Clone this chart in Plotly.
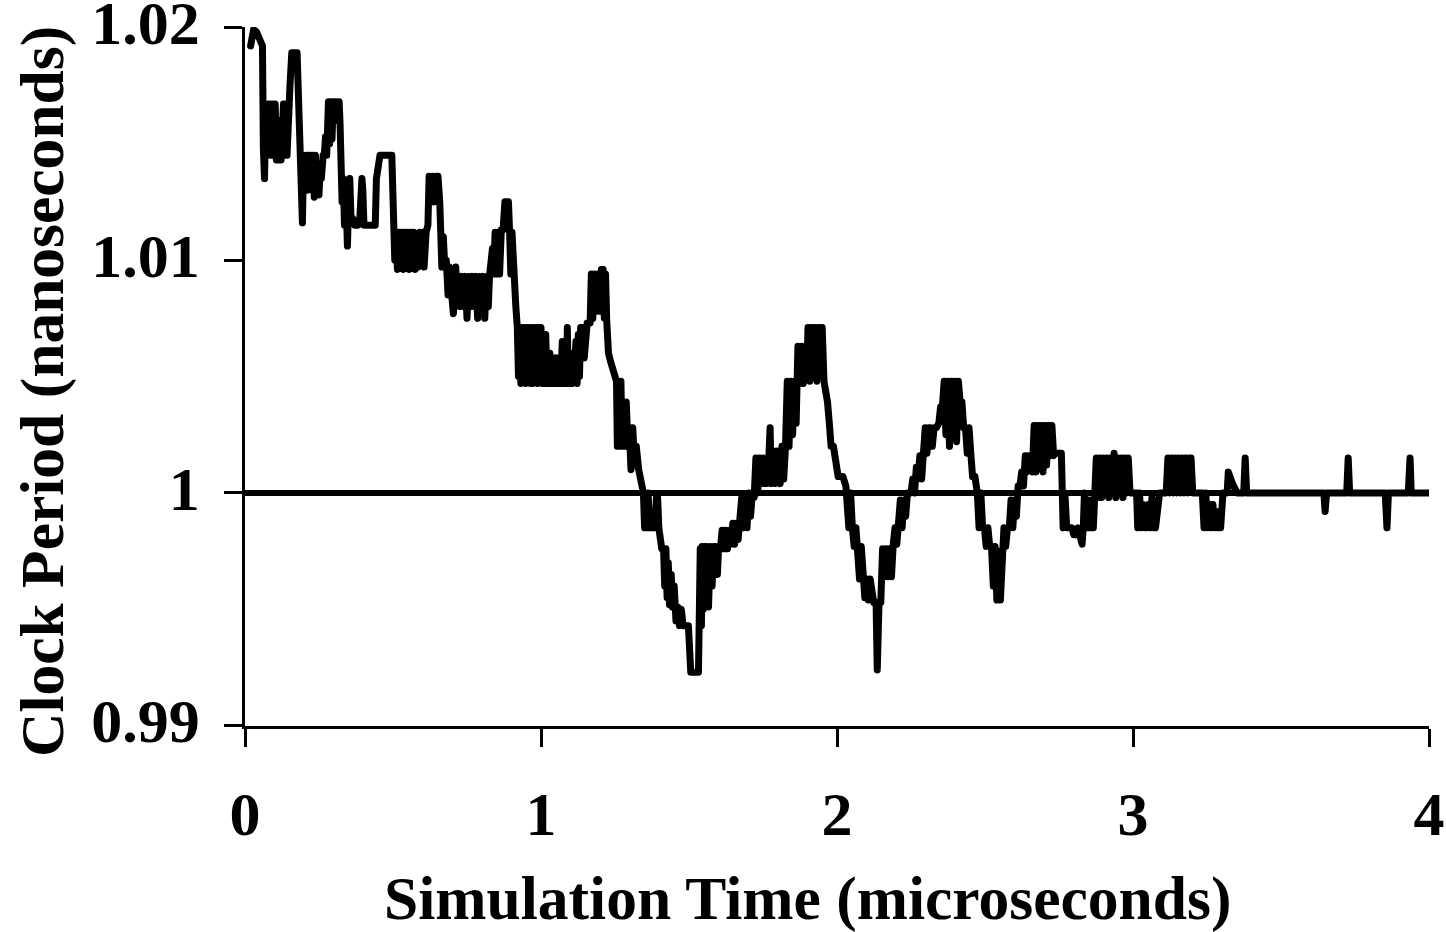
import plotly.graph_objects as go

# ---- data: simulation time (microseconds) and clock period (nanoseconds) ----
tA = [0.019, 0.029, 0.039, 0.059, 0.062, 0.066, 0.070, 0.074, 0.078, 0.082, 0.086, 0.090, 0.094, 0.098, 0.102,
      0.106, 0.110, 0.114, 0.118, 0.122, 0.126, 0.130, 0.134, 0.138, 0.142, 0.147, 0.152, 0.158, 0.176, 0.194]
pA = [1.0192, 1.0199, 1.0198, 1.0192, 1.0148, 1.0135, 1.0167, 1.0145, 1.0167, 1.0150, 1.0167, 1.0145, 1.0167, 1.0150, 1.0167,
      1.0143, 1.0160, 1.0143, 1.0150, 1.0143, 1.0155, 1.0167, 1.0150, 1.0167, 1.0145, 1.0167, 1.0175, 1.0189, 1.0189, 1.0116]

tB = [0.198, 0.202, 0.206, 0.210, 0.214, 0.218, 0.222, 0.226, 0.230, 0.234, 0.238, 0.242, 0.246, 0.250, 0.254,
      0.258, 0.264, 0.268, 0.272, 0.276, 0.282, 0.286, 0.290, 0.294, 0.298, 0.306, 0.312, 0.318, 0.321, 0.324]
pB = [1.0145, 1.0130, 1.0145, 1.0130, 1.0145, 1.0132, 1.0145, 1.0130, 1.0145, 1.0127, 1.0145, 1.0130, 1.0138, 1.0128, 1.0140,
      1.0135, 1.0145, 1.0145, 1.0153, 1.0145, 1.0168, 1.0150, 1.0168, 1.0152, 1.0168, 1.0168, 1.0160, 1.0168, 1.0159, 1.0135]

tC = [0.328, 0.332, 0.336, 0.341, 0.346, 0.350, 0.354, 0.358, 0.364, 0.370, 0.376, 0.382, 0.388, 0.395,
      0.398, 0.402, 0.410, 0.418, 0.426, 0.434, 0.440, 0.444, 0.450, 0.456, 0.496, 0.499, 0.502]
pC = [1.0125, 1.0135, 1.0115, 1.0130, 1.0106, 1.0125, 1.0135, 1.0118, 1.0118, 1.0115, 1.0115, 1.0115, 1.0118, 1.0135,
      1.0130, 1.0115, 1.0115, 1.0115, 1.0115, 1.0115, 1.0115, 1.0135, 1.0140, 1.0145, 1.0145, 1.0130, 1.0113]

tD = [0.506, 0.510, 0.515, 0.520, 0.525, 0.530, 0.535, 0.540, 0.545, 0.550, 0.555, 0.560,
      0.565, 0.570, 0.575, 0.580, 0.585, 0.590, 0.595, 0.600, 0.605, 0.612, 0.618]
pD = [1.0100, 1.0110, 1.0096, 1.0112, 1.0097, 1.0112, 1.0096, 1.0112, 1.0097, 1.0112, 1.0096, 1.0112,
      1.0097, 1.0112, 1.0096, 1.0110, 1.0097, 1.0112, 1.0100, 1.0112, 1.0097, 1.0112, 1.0115]

tE = [0.622, 0.628, 0.633, 0.640, 0.645, 0.652, 0.658, 0.661, 0.665, 0.670, 0.675, 0.680, 0.686,
      0.690, 0.695, 0.700, 0.704, 0.708, 0.712, 0.716, 0.720, 0.726, 0.732, 0.738, 0.744, 0.750,
      0.756, 0.762, 0.768, 0.774, 0.780, 0.786, 0.792, 0.798, 0.804, 0.810, 0.816, 0.822, 0.826]
pE = [1.0136, 1.0125, 1.0136, 1.0125, 1.0136, 1.0136, 1.0125, 1.0116, 1.0097, 1.0110, 1.0097, 1.0100, 1.0085,
      1.0097, 1.0085, 1.0082, 1.0077, 1.0085, 1.0097, 1.0085, 1.0093, 1.0080, 1.0093, 1.0080, 1.0093, 1.0075,
      1.0093, 1.0080, 1.0093, 1.0080, 1.0093, 1.0075, 1.0093, 1.0080, 1.0093, 1.0075, 1.0093, 1.0080, 1.0093]

tF = [0.836, 0.840, 0.845, 0.850, 0.855, 0.860, 0.866, 0.872, 0.878, 0.890, 0.894, 0.898, 0.902, 0.906,
      0.910, 0.915, 0.920]
pF = [1.0105, 1.0094, 1.0112, 1.0094, 1.0112, 1.0094, 1.0113, 1.0113, 1.0125, 1.0125, 1.0112, 1.0094, 1.0112, 1.0094,
      1.0080, 1.0080, 1.0071]

tG = [0.924, 0.928, 0.932, 0.936, 0.940, 0.944, 0.948, 0.952, 0.956, 0.960, 0.964, 0.968, 0.972, 0.976, 0.980,
      0.984, 0.988, 0.992, 0.996, 1.000, 1.004, 1.008, 1.012, 1.016, 1.020, 1.026, 1.030, 1.034, 1.040, 1.046,
      1.050, 1.054, 1.060, 1.066, 1.072, 1.078, 1.086, 1.089, 1.092, 1.098, 1.104, 1.108, 1.112, 1.118, 1.122,
      1.126, 1.130, 1.134, 1.140, 1.146, 1.150, 1.156, 1.162]
pG = [1.0050, 1.0071, 1.0047, 1.0071, 1.0050, 1.0071, 1.0047, 1.0071, 1.0050, 1.0071, 1.0047, 1.0071, 1.0047, 1.0071, 1.0050,
      1.0071, 1.0047, 1.0071, 1.0050, 1.0071, 1.0047, 1.0060, 1.0047, 1.0068, 1.0047, 1.0047, 1.0060, 1.0047, 1.0047, 1.0047,
      1.0058, 1.0047, 1.0047, 1.0047, 1.0065, 1.0047, 1.0047, 1.0071, 1.0047, 1.0047, 1.0047, 1.0060, 1.0050, 1.0065, 1.0047,
      1.0068, 1.0050, 1.0071, 1.0071, 1.0058, 1.0071, 1.0073, 1.0073]

tH = [1.166, 1.170, 1.175, 1.180, 1.186, 1.192, 1.198, 1.204, 1.210, 1.214, 1.218, 1.222, 1.228, 1.236, 1.244, 1.250]
pH = [1.0073, 1.0094, 1.0075, 1.0094, 1.0078, 1.0094, 1.0078, 1.0096, 1.0096, 1.0075, 1.0094, 1.0074, 1.0060, 1.0056, 1.0052, 1.0048]

tI = [1.255, 1.258, 1.262, 1.266, 1.270, 1.274, 1.278, 1.284, 1.288, 1.294, 1.298, 1.304, 1.310, 1.316, 1.322,
      1.330, 1.338, 1.346]
pI = [1.0048, 1.0020, 1.0048, 1.0020, 1.0048, 1.0020, 1.0039, 1.0020, 1.0039, 1.0020, 1.0028, 1.0010, 1.0028, 1.0012, 1.0020,
      1.0010, 1.0004, 1.0000]

tJ = [1.350, 1.354, 1.358, 1.362, 1.366, 1.372, 1.378, 1.384, 1.390, 1.394, 1.398, 1.402, 1.408, 1.414, 1.418,
      1.422, 1.426, 1.430, 1.434, 1.440, 1.444, 1.450, 1.456, 1.462, 1.468, 1.474, 1.480, 1.486, 1.492, 1.498,
      1.506, 1.532, 1.538, 1.542, 1.544, 1.548, 1.552, 1.556, 1.560, 1.566, 1.572, 1.578, 1.584, 1.590, 1.596, 1.600]
pJ = [0.9985, 1.0000, 0.9985, 1.0000, 0.9985, 0.9985, 0.9985, 0.9985, 0.9998, 0.9998, 0.9985, 0.9980, 0.9976, 0.9976, 0.9960,
      0.9976, 0.9955, 0.9970, 0.9952, 0.9965, 0.9951, 0.9960, 0.9945, 0.9951, 0.9943, 0.9950, 0.9943, 0.9943, 0.9943, 0.9943,
      0.9923, 0.9923, 0.9976, 0.9943, 0.9977, 0.9950, 0.9977, 0.9955, 0.9977, 0.9951, 0.9977, 0.9960, 0.9977, 0.9977, 0.9965, 0.9977]

tK = [1.606, 1.612, 1.618, 1.624, 1.630, 1.636, 1.642, 1.648, 1.654, 1.660, 1.666, 1.672, 1.678, 1.684, 1.690,
      1.696, 1.702, 1.708, 1.714, 1.720, 1.726, 1.732, 1.738, 1.744, 1.750, 1.756, 1.762, 1.768, 1.774, 1.778,
      1.784, 1.790, 1.796, 1.802]
pK = [0.9976, 0.9984, 0.9976, 0.9984, 0.9976, 0.9984, 0.9978, 0.9987, 0.9978, 0.9987, 0.9980, 0.9987, 0.9998, 0.9985, 0.9998,
      0.9985, 1.0000, 0.9990, 1.0000, 0.9998, 1.0015, 1.0000, 1.0015, 1.0004, 1.0015, 1.0004, 1.0004, 1.0010, 1.0028, 1.0004,
      1.0018, 1.0004, 1.0018, 1.0010]

tL = [1.808, 1.814, 1.820, 1.826, 1.832, 1.838, 1.844, 1.850, 1.856, 1.862, 1.868, 1.874, 1.880, 1.886, 1.892,
      1.898, 1.902, 1.908, 1.914, 1.920, 1.926, 1.932, 1.938, 1.944, 1.950, 1.956, 1.962, 1.968, 1.974, 1.980,
      1.988, 1.996, 2.004, 2.020, 2.030]
pL = [1.0004, 1.0020, 1.0006, 1.0020, 1.0048, 1.0020, 1.0048, 1.0025, 1.0048, 1.0030, 1.0063, 1.0047, 1.0063, 1.0047, 1.0063,
      1.0050, 1.0071, 1.0048, 1.0071, 1.0050, 1.0071, 1.0048, 1.0071, 1.0060, 1.0071, 1.0048, 1.0045, 1.0039, 1.0030, 1.0020,
      1.0020, 1.0015, 1.0007, 1.0007, 1.0003]

tM = [2.040, 2.046, 2.052, 2.058, 2.064, 2.070, 2.076, 2.082, 2.088, 2.094, 2.100, 2.106, 2.112, 2.118, 2.124,
      2.132, 2.136, 2.142, 2.148, 2.154, 2.160, 2.166, 2.172, 2.178, 2.184, 2.190, 2.196, 2.202, 2.208, 2.214,
      2.220, 2.226, 2.232, 2.238, 2.244]
pM = [0.9985, 1.0000, 0.9985, 0.9977, 0.9985, 0.9977, 0.9963, 0.9977, 0.9963, 0.9955, 0.9963, 0.9954, 0.9963, 0.9954, 0.9953,
      0.9953, 0.9924, 0.9953, 0.9953, 0.9976, 0.9964, 0.9976, 0.9964, 0.9976, 0.9964, 0.9978, 0.9985, 0.9978, 0.9985, 0.9997,
      0.9985, 0.9997, 0.9990, 1.0000, 1.0000]

tN = [2.250, 2.256, 2.262, 2.268, 2.274, 2.280, 2.286, 2.292, 2.298, 2.304, 2.310, 2.316, 2.322, 2.328, 2.336,
      2.344, 2.350, 2.356, 2.362, 2.368, 2.374, 2.380, 2.386, 2.392, 2.398, 2.404, 2.410, 2.416, 2.422, 2.428,
      2.434, 2.440, 2.446, 2.452, 2.458, 2.466, 2.474, 2.480, 2.486, 2.492, 2.498, 2.504, 2.510, 2.516]
pN = [1.0000, 1.0006, 1.0000, 1.0011, 1.0006, 1.0016, 1.0006, 1.0017, 1.0028, 1.0017, 1.0028, 1.0028, 1.0020, 1.0028, 1.0028,
      1.0030, 1.0037, 1.0037, 1.0048, 1.0025, 1.0048, 1.0020, 1.0048, 1.0025, 1.0048, 1.0022, 1.0048, 1.0039, 1.0039, 1.0028,
      1.0028, 1.0017, 1.0028, 1.0017, 1.0007, 1.0007, 1.0000, 0.9985, 1.0000, 0.9985, 0.9985, 0.9977, 0.9985, 0.9977]

tO = [2.522, 2.528, 2.534, 2.540, 2.546, 2.552, 2.558, 2.564, 2.570, 2.576, 2.582, 2.588, 2.594, 2.600, 2.606,
      2.612, 2.618, 2.624, 2.630, 2.636, 2.642, 2.648, 2.654, 2.660, 2.666, 2.672, 2.678, 2.684, 2.690, 2.696,
      2.702, 2.708, 2.714, 2.720, 2.726, 2.732, 2.738, 2.746, 2.752, 2.758, 2.764, 2.770, 2.776, 2.782, 2.788,
      2.794, 2.800, 2.808, 2.814, 2.820, 2.828, 2.832, 2.836, 2.840, 2.844, 2.848, 2.852, 2.856, 2.860, 2.866, 2.872]
pO = [0.9977, 0.9960, 0.9977, 0.9954, 0.9975, 0.9954, 0.9977, 0.9985, 0.9977, 0.9985, 0.9985, 0.9997, 0.9985, 0.9997, 0.9990,
      1.0003, 1.0003, 1.0009, 1.0003, 1.0016, 1.0009, 1.0016, 1.0016, 1.0009, 1.0029, 1.0009, 1.0029, 1.0012, 1.0029, 1.0009,
      1.0029, 1.0012, 1.0029, 1.0016, 1.0029, 1.0016, 1.0017, 1.0017, 1.0017, 1.0017, 0.9985, 1.0000, 0.9985, 0.9985, 0.9985,
      0.9985, 0.9982, 0.9982, 0.9985, 0.9982, 0.9978, 0.9985, 1.0000, 0.9985, 0.9997, 0.9985, 0.9997, 0.9985, 0.9997, 0.9985, 0.9997]

tP = [2.876, 2.882, 2.888, 2.894, 2.900, 2.906, 2.912, 2.918, 2.924, 2.930, 2.936, 2.942, 2.948, 2.954, 2.960,
      2.966, 2.972, 2.978, 2.984, 2.990, 3.012]
pP = [1.0015, 0.9998, 1.0015, 0.9998, 1.0015, 1.0000, 1.0015, 0.9998, 1.0015, 1.0000, 1.0017, 0.9998, 1.0015, 1.0000, 1.0015,
      0.9998, 1.0015, 1.0000, 1.0015, 1.0000, 1.0000]

tQ = [3.016, 3.022, 3.028, 3.034, 3.040, 3.046, 3.052, 3.058, 3.064, 3.070, 3.076, 3.082, 3.090, 3.112]
pQ = [0.9985, 1.0000, 0.9985, 0.9995, 0.9985, 0.9985, 0.9995, 0.9985, 0.9998, 0.9985, 0.9985, 0.9995, 1.0000, 1.0000]

tR = [3.118, 3.124, 3.130, 3.136, 3.142, 3.148, 3.154, 3.160, 3.166, 3.172, 3.178, 3.184, 3.190, 3.196, 3.202, 3.234]
pR = [1.0015, 1.0000, 1.0015, 1.0000, 1.0015, 1.0000, 1.0015, 1.0000, 1.0015, 1.0000, 1.0015, 1.0000, 1.0015, 1.0015, 1.0000, 1.0000]

tS = [3.240, 3.246, 3.252, 3.258, 3.264, 3.270, 3.276, 3.282, 3.288, 3.296, 3.304, 3.318, 3.322, 3.336, 3.352,
      3.374, 3.379, 3.384, 3.645, 3.649, 3.654, 3.722, 3.727, 3.732, 3.852, 3.858, 3.863, 3.930, 3.936, 3.940, 4.000]
pS = [0.9985, 1.0000, 0.9985, 0.9995, 0.9985, 0.9995, 0.9985, 0.9992, 0.9985, 0.9985, 1.0000, 1.0000, 1.0009, 1.0004, 1.0000,
      1.0000, 1.0015, 1.0000, 1.0000, 0.9992, 1.0000, 1.0000, 1.0015, 1.0000, 1.0000, 0.9985, 1.0000, 1.0000, 1.0015, 1.0000, 1.0000]

# nominal (target) clock period
ref_time = [0.0, 4.0]
ref_period = [1.0, 1.0]

x_ticks = [0, 1, 2, 3, 4]
x_tick_labels = ["0", "1", "2", "3", "4"]
y_ticks = [0.99, 1.0, 1.01, 1.02]
y_tick_labels = ["0.99", "1", "1.01", "1.02"]

x_title = "Simulation Time (microseconds)"
y_title = "Clock Period (nanoseconds)"

segments_t = [tA, tB, tC, tD, tE, tF, tG, tH, tI, tJ, tK, tL, tM, tN, tO, tP, tQ, tR, tS]
segments_p = [pA, pB, pC, pD, pE, pF, pG, pH, pI, pJ, pK, pL, pM, pN, pO, pP, pQ, pR, pS]
time_us, period_ns = [], []
for st, sp in zip(segments_t, segments_p):
    assert len(st) == len(sp), (len(st), len(sp), st[0])
    time_us += st
    period_ns += sp

FONT = "Liberation Serif, Times New Roman, serif"

fig = go.Figure()
fig.add_trace(go.Scatter(x=ref_time, y=ref_period, mode="lines",
                         line=dict(color="black", width=6), showlegend=False, hoverinfo="skip"))
fig.add_trace(go.Scatter(x=time_us, y=period_ns, mode="lines",
                         line=dict(color="black", width=7), showlegend=False))

axis_common = dict(
    showline=True, linecolor="black", linewidth=2.5,
    ticks="outside", ticklen=18, tickwidth=2.5, tickcolor="black",
    showgrid=False, zeroline=False, automargin=False,
    ticklabeloverflow="allow",
    tickfont=dict(family=FONT, size=62, color="black", weight="bold"),
)
fig.update_xaxes(range=[0, 4], tickvals=x_ticks, ticktext=x_tick_labels,
                 ticklabelstandoff=14, **axis_common)
fig.update_yaxes(range=[0.98999, 1.02001], tickvals=y_ticks, ticktext=y_tick_labels,
                 ticklabelstandoff=12, ticklabelshift=-5, **axis_common)

title_font = dict(family=FONT, size=61.5, color="black", weight="bold")
fig.add_annotation(text=x_title, xref="paper", yref="paper", x=0.4747, y=-0.247,
                   xanchor="center", yanchor="middle", showarrow=False, font=title_font)
fig.add_annotation(text=y_title, xref="paper", yref="paper", x=-0.1705, y=0.478,
                   xanchor="center", yanchor="middle", showarrow=False, textangle=-90, font=title_font)

fig.update_layout(
    width=1446, height=932,
    margin=dict(l=245, r=17, t=27, b=206),
    paper_bgcolor="white", plot_bgcolor="white",
    showlegend=False,
)

post = ("var s=document.createElement('style');"
        "s.innerHTML='html,body{margin:0;padding:0;overflow:hidden;}"
        ".scatterlayer .js-line{stroke-linejoin:round !important;stroke-linecap:round !important;}';"
        "document.head.appendChild(s);")
fig.write_html("out.html", post_script=post, config={"displayModeBar": False})
